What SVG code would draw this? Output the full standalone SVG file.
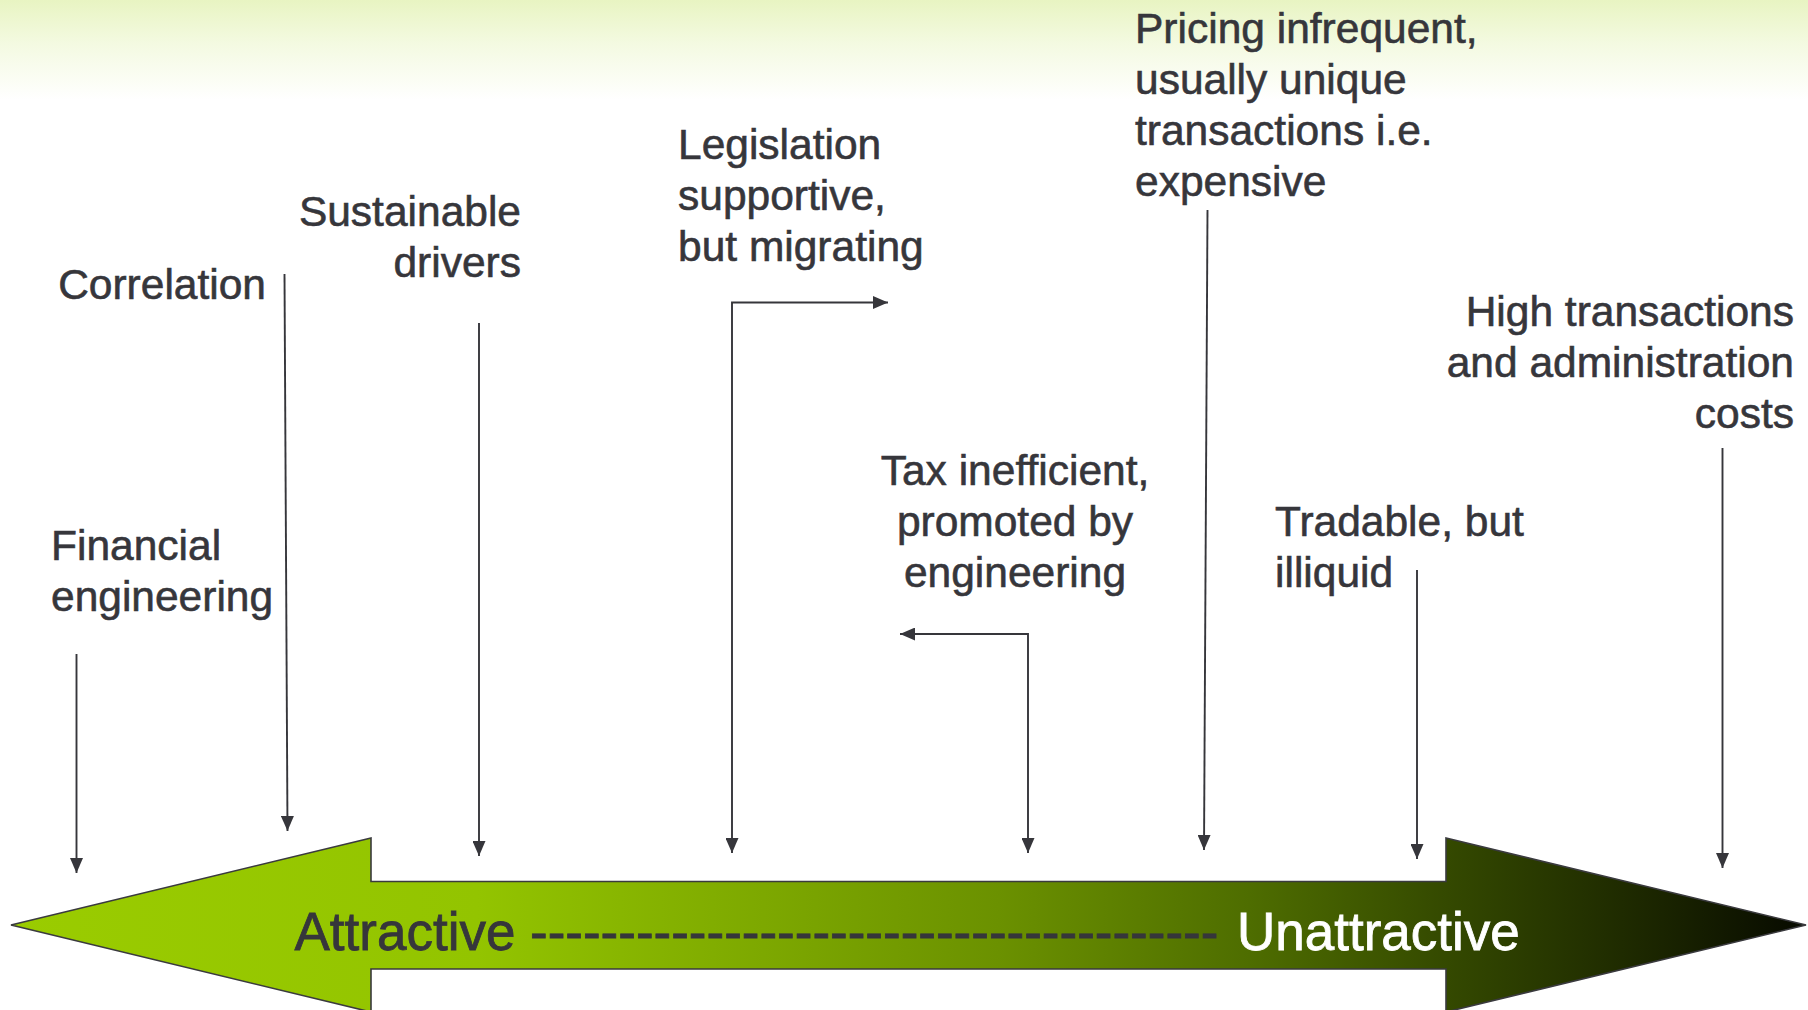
<svg xmlns="http://www.w3.org/2000/svg" width="1808" height="1010" viewBox="0 0 1808 1010">
  <defs>
    <linearGradient id="topHaze" x1="0" y1="0" x2="0" y2="1">
      <stop offset="0" stop-color="#e8f4c2"/>
      <stop offset="0.45" stop-color="#f4fae2"/>
      <stop offset="1" stop-color="#ffffff"/>
    </linearGradient>
    <linearGradient id="scaleFill" gradientUnits="userSpaceOnUse" x1="11" y1="0" x2="1806" y2="0">
      <stop offset="0" stop-color="#9acc00"/>
      <stop offset="0.26" stop-color="#93c400"/>
      <stop offset="0.55" stop-color="#6b9100"/>
      <stop offset="0.69" stop-color="#4e6d00"/>
      <stop offset="0.80" stop-color="#344900"/>
      <stop offset="0.92" stop-color="#1a2400"/>
      <stop offset="1" stop-color="#070a00"/>
    </linearGradient>
    <marker id="head" viewBox="0 0 15 13" refX="15" refY="6.5" markerWidth="15" markerHeight="13" markerUnits="userSpaceOnUse" orient="auto-start-reverse">
      <path d="M0,0 L15,6.5 L0,13 Z" fill="#36363b"/>
    </marker>
    <style>
      .lbl { font-family: "Liberation Sans", Arial, sans-serif; font-size: 42.5px; fill: #36363b; stroke: #36363b; stroke-width: 0.6px; }
      .scale { font-family: "Liberation Sans", Arial, sans-serif; font-size: 53px; stroke-width: 0.8px; }
      .link { fill: none; stroke: #36363b; stroke-width: 1.9; }
    </style>
  </defs>

  <!-- page background with a light green wash along the top edge -->
  <rect x="0" y="0" width="1808" height="1010" fill="#ffffff"/>
  <rect x="0" y="0" width="1808" height="100" fill="url(#topHaze)"/>

  <!-- double-headed scale arrow -->
  <g id="scale-arrow">
    <path d="M11,925 L371,838 L371,881.5 L1446,881.5 L1446,838 L1806,925 L1446,1012 L1446,969 L371,969 L371,1012 Z" fill="url(#scaleFill)" stroke="#3a3a3e" stroke-width="1.6" stroke-linejoin="miter"/>
    <text class="scale" x="294.5" y="950" fill="#36363b" stroke="#36363b">Attractive</text>
    <text class="scale" x="530" y="950" fill="#36363b" stroke="#36363b">---------------------------------------</text>
    <text class="scale" x="1237" y="950" fill="#ffffff" stroke="#ffffff">Unattractive</text>
  </g>

  <!-- factor labels -->
  <g id="financial-engineering">
    <text class="lbl" x="51" y="560">Financial</text>
    <text class="lbl" x="51" y="611">engineering</text>
  </g>
  <g id="correlation">
    <text class="lbl" x="266" y="298.5" text-anchor="end">Correlation</text>
  </g>
  <g id="sustainable-drivers">
    <text class="lbl" x="521" y="226" text-anchor="end">Sustainable</text>
    <text class="lbl" x="521" y="277" text-anchor="end">drivers</text>
  </g>
  <g id="legislation">
    <text class="lbl" x="678" y="159">Legislation</text>
    <text class="lbl" x="678" y="210">supportive,</text>
    <text class="lbl" x="678" y="261">but migrating</text>
  </g>
  <g id="tax-inefficient">
    <text class="lbl" x="1015" y="485" text-anchor="middle">Tax inefficient,</text>
    <text class="lbl" x="1015" y="536" text-anchor="middle">promoted by</text>
    <text class="lbl" x="1015" y="587" text-anchor="middle">engineering</text>
  </g>
  <g id="pricing-infrequent">
    <text class="lbl" x="1135" y="43">Pricing infrequent,</text>
    <text class="lbl" x="1135" y="94">usually unique</text>
    <text class="lbl" x="1135" y="145">transactions i.e.</text>
    <text class="lbl" x="1135" y="196">expensive</text>
  </g>
  <g id="tradable-illiquid">
    <text class="lbl" x="1275" y="536">Tradable, but</text>
    <text class="lbl" x="1275" y="587">illiquid</text>
  </g>
  <g id="high-costs">
    <text class="lbl" x="1794" y="326" text-anchor="end">High transactions</text>
    <text class="lbl" x="1794" y="377" text-anchor="end">and administration</text>
    <text class="lbl" x="1794" y="428" text-anchor="end">costs</text>
  </g>

  <!-- pointers from each label onto the scale -->
  <g id="connectors">
    <path class="link" d="M76.5,654 L76.5,873" marker-end="url(#head)"/>
    <path class="link" d="M284.5,274 L287.5,831" marker-end="url(#head)"/>
    <path class="link" d="M479,323 L479,856" marker-end="url(#head)"/>
    <path class="link" d="M732,853 L732,302.5 L888,302.5" marker-start="url(#head)" marker-end="url(#head)"/>
    <path class="link" d="M1028,853 L1028,634 L900,634" marker-start="url(#head)" marker-end="url(#head)"/>
    <path class="link" d="M1207.5,210 L1204,850" marker-end="url(#head)"/>
    <path class="link" d="M1417,570 L1417,859" marker-end="url(#head)"/>
    <path class="link" d="M1722.5,448 L1722.5,868" marker-end="url(#head)"/>
  </g>
</svg>
